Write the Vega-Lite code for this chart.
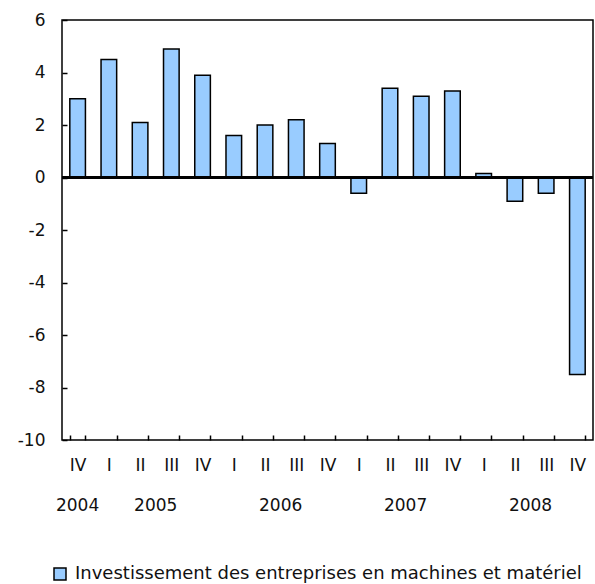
{
  "$schema": "https://vega.github.io/schema/vega-lite/v6.json",
  "width": 531,
  "height": 420,
  "autosize": "none",
  "padding": {"left": 62, "top": 20, "right": 2, "bottom": 144},
  "background": "white",
  "config": {
    "view": {"stroke": "#000000", "strokeWidth": 1.5},
    "font": "DejaVu Sans",
    "axis": {"labelFont": "DejaVu Sans", "labelColor": "#111111", "labelFontSize": 17, "domain": false, "tickColor": "#000000", "tickWidth": 1.5, "tickSize": 5, "offset": -5, "grid": false, "zindex": 1}
  },
  "data": {
    "values": [
      {"period": "2004 IV", "year": "2004", "n": 1, "value": 3.0},
      {"period": "2005 I", "year": "2005", "n": 2, "value": 4.5},
      {"period": "2005 II", "year": "2005", "n": 3, "value": 2.1},
      {"period": "2005 III", "year": "2005", "n": 4, "value": 4.9},
      {"period": "2005 IV", "year": "2005", "n": 5, "value": 3.9},
      {"period": "2006 I", "year": "2006", "n": 6, "value": 1.6},
      {"period": "2006 II", "year": "2006", "n": 7, "value": 2.0},
      {"period": "2006 III", "year": "2006", "n": 8, "value": 2.2},
      {"period": "2006 IV", "year": "2006", "n": 9, "value": 1.3},
      {"period": "2007 I", "year": "2007", "n": 10, "value": -0.6},
      {"period": "2007 II", "year": "2007", "n": 11, "value": 3.4},
      {"period": "2007 III", "year": "2007", "n": 12, "value": 3.1},
      {"period": "2007 IV", "year": "2007", "n": 13, "value": 3.3},
      {"period": "2008 I", "year": "2008", "n": 14, "value": 0.15},
      {"period": "2008 II", "year": "2008", "n": 15, "value": -0.9},
      {"period": "2008 III", "year": "2008", "n": 16, "value": -0.6},
      {"period": "2008 IV", "year": "2008", "n": 17, "value": -7.5}
    ]
  },
  "layer": [
    {
      "mark": {"type": "bar", "stroke": "#000000", "strokeWidth": 1.5},
      "encoding": {
        "x": {
          "field": "period", "type": "nominal", "sort": null,
          "scale": {"paddingInner": 0.5, "paddingOuter": 0.25},
          "axis": {"title": null, "labelAngle": 0, "labelExpr": "split(datum.label, ' ')[1]", "tickBand": "extent", "labelPadding": 17, "labelBaseline": "top"}
        },
        "y": {
          "field": "value", "type": "quantitative",
          "scale": {"domain": [-10, 6], "nice": false, "zero": false},
          "axis": {"title": null, "values": [-10, -8, -6, -4, -2, 0, 2, 4, 6], "labelExpr": "'' + datum.value", "labelPadding": 17}
        },
        "color": {
          "datum": "Investissement des entreprises en machines et matériel",
          "scale": {"range": ["#99CCFF"]},
          "legend": {"title": null, "orient": "none", "legendX": -11, "legendY": 545, "symbolType": "square", "symbolSize": 144, "symbolStrokeColor": "#000000", "symbolStrokeWidth": 1.5, "labelFontSize": 18, "labelFont": "DejaVu Sans", "labelColor": "#111111", "labelOffset": 6, "labelLimit": 0, "padding": 0}
        }
      }
    },
    {
      "mark": {"type": "rule", "color": "#000000", "strokeWidth": 1.5},
      "encoding": {"y": {"datum": 0}}
    },
    {
      "transform": [{"aggregate": [{"op": "mean", "field": "n", "as": "center"}], "groupby": ["year"]}],
      "mark": {"type": "text", "fontSize": 17, "font": "DejaVu Sans", "color": "#111111", "baseline": "middle", "align": "center"},
      "encoding": {
        "x": {"field": "center", "type": "quantitative", "scale": {"domain": [0.5, 17.5], "nice": false, "zero": false}, "axis": null},
        "y": {"datum": -12.5},
        "text": {"field": "year"}
      }
    }
  ],
  "resolve": {"scale": {"x": "independent"}}
}
